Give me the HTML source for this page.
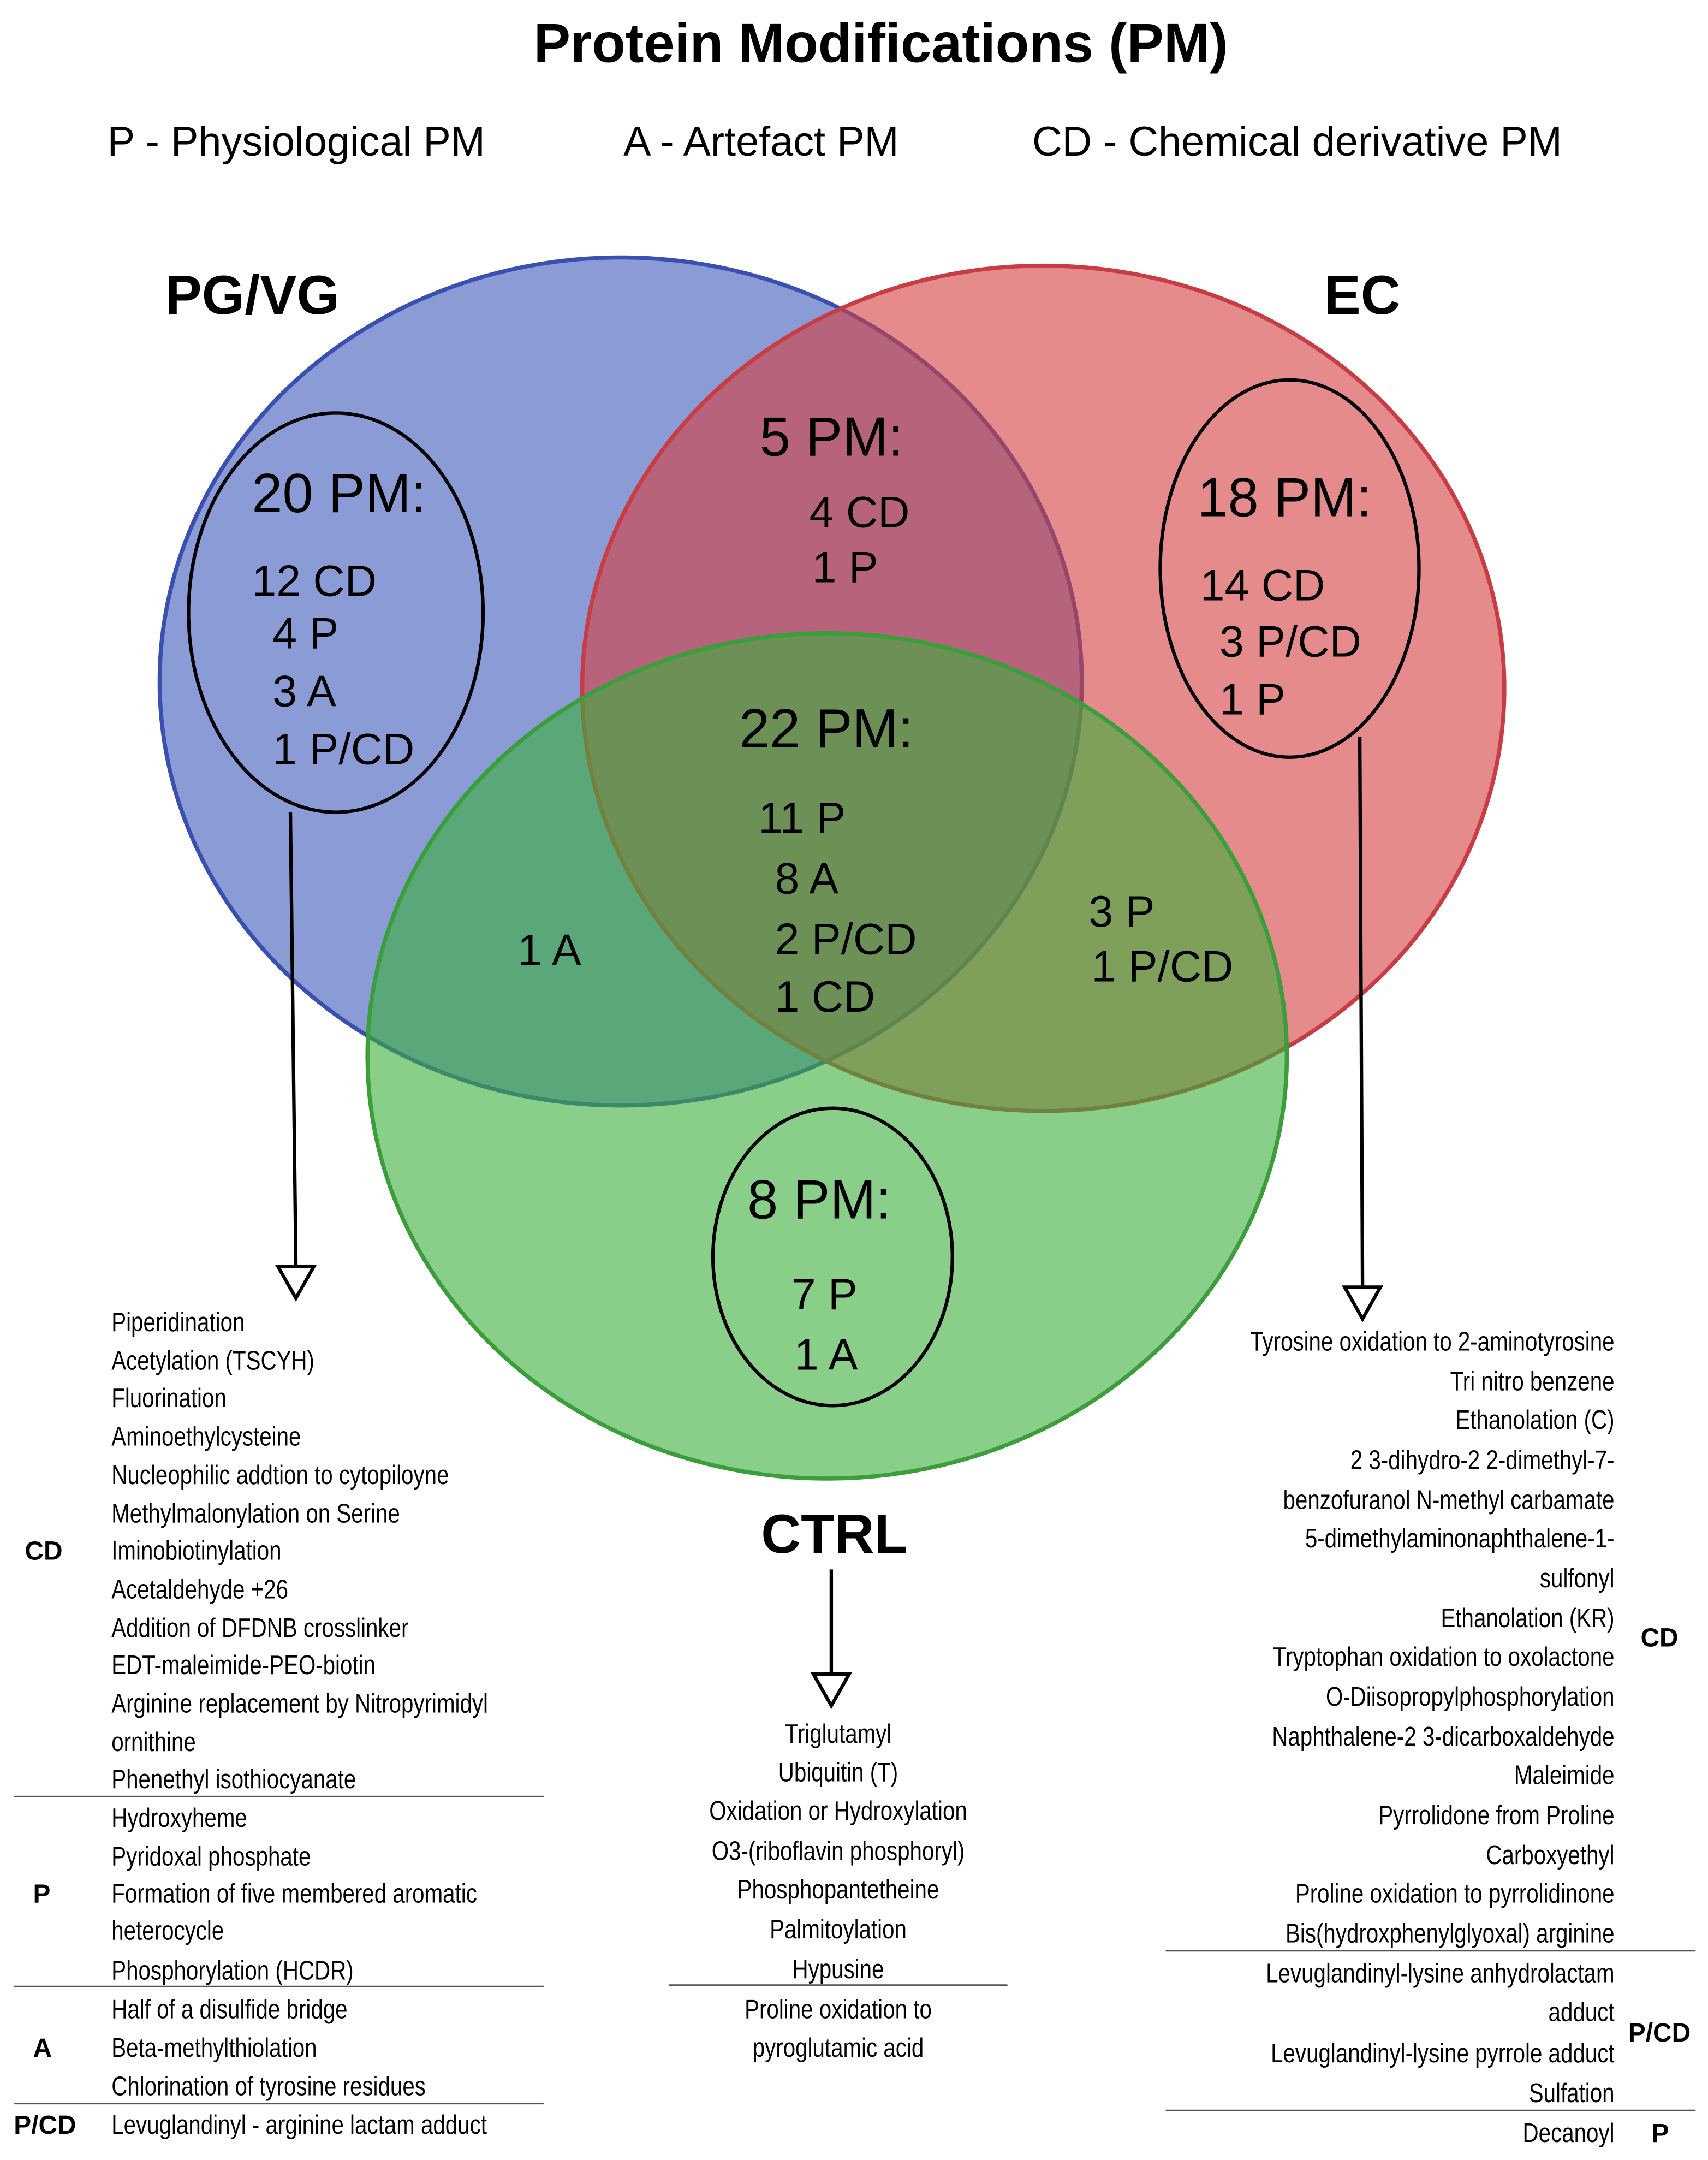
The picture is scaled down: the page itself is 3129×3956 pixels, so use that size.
<!DOCTYPE html>
<html><head><meta charset="utf-8"><style>
html,body{margin:0;padding:0;background:#fff;}
svg{display:block;}
text{font-family:"Liberation Sans",Arial,sans-serif;fill:#000;}
.l{font-size:19.5px;}
.b{font-weight:bold;font-size:19px;}
.n{font-size:32px;}
.h{font-size:40px;}
</style></head><body>
<svg width="3129" height="3956" viewBox="0 0 1241 1569" xmlns="http://www.w3.org/2000/svg">
<rect width="1241" height="1569" fill="#fff"/>
<text x="640" y="45" text-anchor="middle" font-weight="bold" font-size="40">Protein Modifications (PM)</text>
<text x="78" y="113" font-size="30">P - Physiological PM</text>
<text x="453" y="113" font-size="30">A - Artefact PM</text>
<text x="750" y="113" font-size="30">CD - Chemical derivative PM</text>
<text x="120" y="228" font-weight="bold" font-size="40">PG/VG</text>
<text x="962" y="228" font-weight="bold" font-size="40">EC</text>

<ellipse cx="451" cy="495" rx="335" ry="308" fill="#3c58bb" fill-opacity="0.6" stroke="#3a50b0" stroke-width="3"/>
<ellipse cx="758" cy="500" rx="335" ry="307" fill="#d43e3e" fill-opacity="0.6" stroke="#c83c44" stroke-width="3"/>
<ellipse cx="601" cy="767" rx="334" ry="307" fill="#3aaf3c" fill-opacity="0.6" stroke="#3a9e3a" stroke-width="3"/>

<g fill="none" stroke="#000" stroke-width="2.5">
<ellipse cx="244" cy="445" rx="107" ry="145"/>
<ellipse cx="937" cy="413" rx="94" ry="137"/>
<ellipse cx="605" cy="913" rx="87" ry="108"/>
<path d="M211 590 L215 920 M988 535 L990 935 M604 1140 L604 1216"/>
<path d="M202 920 L228 920 L215 943 Z M977 935 L1003 935 L990 958 Z M591 1216 L617 1216 L604 1239 Z" fill="#fff"/>
</g>

<text x="183" y="372" class="h">20 PM:</text>
<text x="183" y="433" class="n">12 CD</text>
<text x="198" y="471" class="n">4 P</text>
<text x="198" y="513" class="n">3 A</text>
<text x="198" y="555" class="n">1 P/CD</text>
<text x="552" y="331" class="h">5 PM:</text>
<text x="588" y="383" class="n">4 CD</text>
<text x="590" y="423" class="n">1 P</text>
<text x="870" y="375" class="h">18 PM:</text>
<text x="872" y="436" class="n">14 CD</text>
<text x="886" y="477" class="n">3 P/CD</text>
<text x="886" y="519" class="n">1 P</text>
<text x="537" y="543" class="h">22 PM:</text>
<text x="551" y="605" class="n">11 P</text>
<text x="563" y="649" class="n">8 A</text>
<text x="563" y="693" class="n">2 P/CD</text>
<text x="563" y="735" class="n">1 CD</text>
<text x="376" y="701" class="n">1 A</text>
<text x="791" y="673" class="n">3 P</text>
<text x="793" y="713" class="n">1 P/CD</text>
<text x="543" y="885" class="h">8 PM:</text>
<text x="575" y="951" class="n">7 P</text>
<text x="577" y="995" class="n">1 A</text>
<text x="553" y="1128" font-weight="bold" font-size="40">CTRL</text>

<!-- left list -->
<g transform="translate(81,0) scale(0.82,1)" class="l">
<text x="0" y="967" class="l">Piperidination</text>
<text x="0" y="995" class="l">Acetylation (TSCYH)</text>
<text x="0" y="1022" class="l">Fluorination</text>
<text x="0" y="1050" class="l">Aminoethylcysteine</text>
<text x="0" y="1078" class="l">Nucleophilic addtion to cytopiloyne</text>
<text x="0" y="1106" class="l">Methylmalonylation on Serine</text>
<text x="0" y="1133" class="l">Iminobiotinylation</text>
<text x="0" y="1161" class="l">Acetaldehyde +26</text>
<text x="0" y="1189" class="l">Addition of DFDNB crosslinker</text>
<text x="0" y="1216" class="l">EDT-maleimide-PEO-biotin</text>
<text x="0" y="1244" class="l">Arginine replacement by Nitropyrimidyl</text>
<text x="0" y="1272" class="l">ornithine</text>
<text x="0" y="1299" class="l">Phenethyl isothiocyanate</text>
<text x="0" y="1327" class="l">Hydroxyheme</text>
<text x="0" y="1355" class="l">Pyridoxal phosphate</text>
<text x="0" y="1382" class="l">Formation of five membered aromatic</text>
<text x="0" y="1409" class="l">heterocycle</text>
<text x="0" y="1438" class="l">Phosphorylation (HCDR)</text>
<text x="0" y="1466" class="l">Half of a disulfide bridge</text>
<text x="0" y="1494" class="l">Beta-methylthiolation</text>
<text x="0" y="1522" class="l">Chlorination of tyrosine residues</text>
<text x="0" y="1550" class="l">Levuglandinyl - arginine lactam adduct</text>
</g>
<text x="18" y="1133" class="b">CD</text>
<text x="24" y="1382" class="b">P</text>
<text x="24" y="1494" class="b">A</text>
<text x="10" y="1550" class="b">P/CD</text>
<g stroke="#555" stroke-width="1.2">
<line x1="10" y1="1305" x2="395" y2="1305"/>
<line x1="10" y1="1443" x2="395" y2="1443"/>
<line x1="10" y1="1528" x2="395" y2="1528"/>
<line x1="486" y1="1442" x2="732" y2="1442"/>
<line x1="847" y1="1417" x2="1232" y2="1417"/>
<line x1="847" y1="1533" x2="1232" y2="1533"/>
</g>

<!-- center list -->
<g transform="translate(609,0) scale(0.82,1)" text-anchor="middle">
<text x="0" y="1266" class="l">Triglutamyl</text>
<text x="0" y="1294" class="l">Ubiquitin (T)</text>
<text x="0" y="1322" class="l">Oxidation or Hydroxylation</text>
<text x="0" y="1351" class="l">O3-(riboflavin phosphoryl)</text>
<text x="0" y="1379" class="l">Phosphopantetheine</text>
<text x="0" y="1408" class="l">Palmitoylation</text>
<text x="0" y="1437" class="l">Hypusine</text>
<text x="0" y="1466" class="l">Proline oxidation to</text>
<text x="0" y="1494" class="l">pyroglutamic acid</text>
</g>

<!-- right list -->
<g transform="translate(1173,0) scale(0.82,1)" text-anchor="end">
<text x="0" y="981" class="l">Tyrosine oxidation to 2-aminotyrosine</text>
<text x="0" y="1010" class="l">Tri nitro benzene</text>
<text x="0" y="1038" class="l">Ethanolation (C)</text>
<text x="0" y="1067" class="l">2 3-dihydro-2 2-dimethyl-7-</text>
<text x="0" y="1096" class="l">benzofuranol N-methyl carbamate</text>
<text x="0" y="1124" class="l">5-dimethylaminonaphthalene-1-</text>
<text x="0" y="1153" class="l">sulfonyl</text>
<text x="0" y="1182" class="l">Ethanolation (KR)</text>
<text x="0" y="1210" class="l">Tryptophan oxidation to oxolactone</text>
<text x="0" y="1239" class="l">O-Diisopropylphosphorylation</text>
<text x="0" y="1268" class="l">Naphthalene-2 3-dicarboxaldehyde</text>
<text x="0" y="1296" class="l">Maleimide</text>
<text x="0" y="1325" class="l">Pyrrolidone from Proline</text>
<text x="0" y="1354" class="l">Carboxyethyl</text>
<text x="0" y="1382" class="l">Proline oxidation to pyrrolidinone</text>
<text x="0" y="1411" class="l">Bis(hydroxphenylglyoxal) arginine</text>
<text x="0" y="1440" class="l">Levuglandinyl-lysine anhydrolactam</text>
<text x="0" y="1468" class="l">adduct</text>
<text x="0" y="1498" class="l">Levuglandinyl-lysine pyrrole adduct</text>
<text x="0" y="1527" class="l">Sulfation</text>
<text x="0" y="1556" class="l">Decanoyl</text>
</g>
<text x="1192" y="1196" class="b">CD</text>
<text x="1183" y="1483" class="b">P/CD</text>
<text x="1200" y="1556" class="b">P</text>
</svg>
</body></html>
